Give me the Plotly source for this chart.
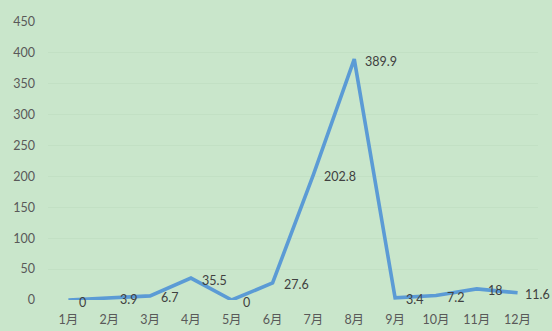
import plotly.graph_objects as go

months = ["1月", "2月", "3月", "4月", "5月", "6月", "7月", "8月", "9月", "10月", "11月", "12月"]
values = [0, 3.9, 6.7, 35.5, 0, 27.6, 202.8, 389.9, 3.4, 7.2, 18, 11.6]
y_ticks = [0, 50, 100, 150, 200, 250, 300, 350, 400, 450]

bg = "#c9e6cb"
font_family = "Lato, 'Noto Sans CJK SC', sans-serif"

fig = go.Figure()
fig.add_trace(go.Scatter(
    x=months,
    y=values,
    mode="lines",
    line=dict(color="#5b9bd5", width=3.6),
    showlegend=False,
))

# value labels sit just to the right of each point;
# the last one is pulled in a little so it stays inside the page
for i, (m, v) in enumerate(zip(months, values)):
    fig.add_annotation(
        x=m, y=v, text=f"{v:g}",
        showarrow=False,
        xanchor="left", yanchor="middle",
        xshift=5 if i == len(months) - 1 else 9,
        yshift=-2,
        font=dict(family=font_family, size=12.5, color="#404040"),
    )

fig.update_layout(
    width=552,
    height=331,
    margin=dict(l=48, r=14, t=22, b=31),
    paper_bgcolor=bg,
    plot_bgcolor=bg,
    font=dict(family=font_family, size=12, color="#595959"),
    xaxis=dict(
        range=[-0.5, len(months) - 0.5],
        showgrid=False,
        zeroline=False,
        showline=False,
        ticks="",
        automargin=False,
        ticklabelstandoff=10,
        tickfont=dict(size=12.5, color="#595959"),
    ),
    yaxis=dict(
        range=[0, 450],
        tickvals=y_ticks,
        showgrid=True,
        gridcolor="#c2e0c4",
        gridwidth=1,
        zeroline=False,
        showline=False,
        ticks="",
        automargin=False,
        ticklabelstandoff=12,
        tickfont=dict(size=12.5, color="#595959"),
    ),
)

fig.write_html("out.html")
